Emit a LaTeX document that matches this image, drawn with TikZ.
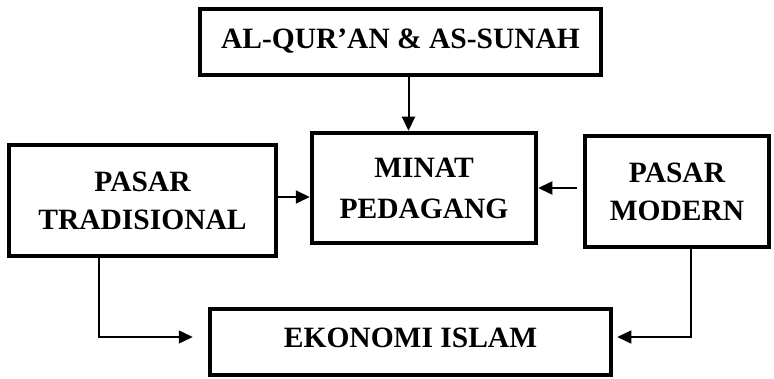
\documentclass[tikz,border=0pt]{standalone}
\usepackage{fontspec}
\setmainfont{Liberation Serif}
\usetikzlibrary{arrows.meta}
\tikzset{
  kotak/.style={draw=black, line width=4.5pt, align=center, inner sep=0pt,
    font=\fontsize{29.5}{38}\selectfont\bfseries},
  panah/.style={-{Triangle[length=14pt,width=13pt]}, line width=2pt},
  panahtipis/.style={-{Triangle[length=14pt,width=13pt]}, line width=1.5pt}
}

\begin{document}
\begin{tikzpicture}[x=1pt,y=-1pt]
  \useasboundingbox (0,0) rectangle (774,379);
  \node[kotak, minimum width=401pt, minimum height=66pt, text depth=6pt] (quran) at (400.5,42)
    {AL-QUR'AN \& AS-SUNAH};
  \node[kotak, minimum width=224pt, minimum height=110pt,
    font=\fontsize{29.5}{41}\selectfont\bfseries] (minat) at (424,188)
    {MINAT\\PEDAGANG};
  \node[kotak, minimum width=267pt, minimum height=111pt] (tradisional) at (142.5,200.5)
    {PASAR\\TRADISIONAL};
  \node[kotak, minimum width=184pt, minimum height=111pt] (modern) at (677,191.5)
    {PASAR\\MODERN};
  \node[kotak, minimum width=401pt, minimum height=66pt, text depth=8pt] (ekonomi) at (410.5,342)
    {EKONOMI ISLAM};

  \draw[panah] ([xshift=8pt]quran.south) -- ([xshift=8pt]quran.south |- minat.north);
  \draw[panah] ([yshift=3.5pt]tradisional.east) -- ([yshift=3.5pt]tradisional.east -| minat.west);
  \draw[panah] ([xshift=-6pt]modern.west |- minat.east) -- (minat.east);
  \draw[panahtipis] ([xshift=-43.5pt]tradisional.south) |- ([xshift=-15pt,yshift=5pt]ekonomi.west);
  \draw[panahtipis] ([xshift=14pt]modern.south) |- ([xshift=4pt,yshift=5pt]ekonomi.east);
\end{tikzpicture}
\end{document}
